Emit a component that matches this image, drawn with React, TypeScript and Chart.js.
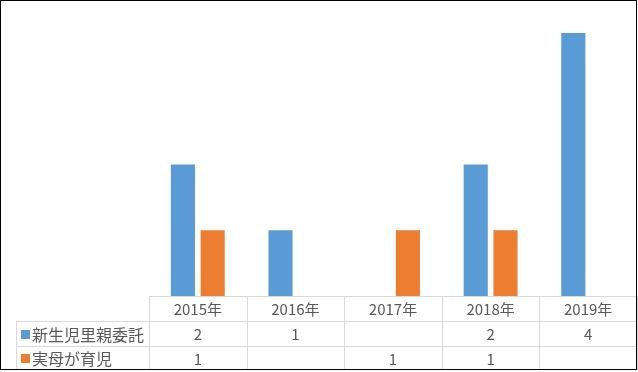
import React, { useEffect, useRef } from "react";
import { Chart, registerables } from "chart.js";

Chart.register(...registerables);

const categories = ["2015年", "2016年", "2017年", "2018年", "2019年"];
const seriesNames = ["新生児里親委託", "実母が育児"];
const fosterValues: (number | null)[] = [2, 1, null, 2, 4];
const motherValues: (number | null)[] = [1, null, 1, 1, null];
const seriesColors = ["#5B9BD5", "#ED7D31"];

const W = 638;
const H = 372;
const FONT = '"Noto Sans CJK JP", "Noto Sans", sans-serif';

const tablePlugin = {
  id: "dataTable",
  afterDraw(chart: any) {
    const ctx = chart.ctx as CanvasRenderingContext2D;
    const x = chart.scales.x;
    const area = chart.chartArea;
    const n = categories.length;
    const colW = (area.right - area.left) / n;
    const top = area.bottom;
    const rowH = [25, 25, 24];
    const y0 = top;
    const y1 = y0 + rowH[0];
    const y2 = y1 + rowH[1];
    const y3 = y2 + rowH[2];
    const labelLeft = 16.5;
    ctx.save();
    ctx.strokeStyle = "#D9D9D9";
    ctx.lineWidth = 1;
    ctx.beginPath();
    ctx.moveTo(area.left, y0 + 0.5);
    ctx.lineTo(area.right, y0 + 0.5);
    ctx.moveTo(labelLeft, y1 + 0.5);
    ctx.lineTo(area.right, y1 + 0.5);
    ctx.moveTo(labelLeft, y2 + 0.5);
    ctx.lineTo(area.right, y2 + 0.5);
    ctx.moveTo(labelLeft, y1);
    ctx.lineTo(labelLeft, y3);
    for (let i = 0; i <= n; i++) {
      const c = x.getPixelForValue(Math.min(i, n - 1));
      const xx = Math.round(i < n ? c - colW / 2 : c + colW / 2) + 0.5;
      ctx.moveTo(xx, y0);
      ctx.lineTo(xx, y3);
    }
    ctx.stroke();

    ctx.fillStyle = "#595959";
    ctx.font = `15px ${FONT}`;
    ctx.textAlign = "center";
    ctx.textBaseline = "middle";
    const rows = [fosterValues, motherValues];
    categories.forEach((cat, i) => {
      const cx = x.getPixelForValue(i);
      ctx.fillStyle = "#595959";
      ctx.fillText(cat, cx, (y0 + y1) / 2 + 1);
      rows.forEach((vals, r) => {
        const v = vals[i];
        if (v !== null && v !== undefined) {
          const ry = r === 0 ? (y1 + y2) / 2 : (y2 + y3) / 2;
          ctx.fillText(String(v), cx, ry + 1);
        }
      });
    });
    ctx.textAlign = "left";
    seriesNames.forEach((name, r) => {
      const ry = r === 0 ? (y1 + y2) / 2 : (y2 + y3) / 2;
      ctx.fillStyle = seriesColors[r];
      ctx.fillRect(21, Math.round(ry) - 4, 9, 9);
      ctx.fillStyle = "#595959";
      ctx.font = `16px ${FONT}`;
      ctx.fillText(name, 32, ry + 1);
    });

    ctx.strokeStyle = "#000000";
    ctx.lineWidth = 1;
    ctx.strokeRect(0.5, 0.5, 636, 369);
    ctx.restore();
  },
};

export default function App() {
  const ref = useRef<HTMLCanvasElement | null>(null);
  useEffect(() => {
    if (!ref.current) return;
    const chart = new Chart(ref.current, {
      type: "bar",
      data: {
        labels: categories,
        datasets: [
          {
            label: seriesNames[0],
            data: fosterValues,
            backgroundColor: seriesColors[0],
            categoryPercentage: 0.61,
            barPercentage: 0.81,
          },
          {
            label: seriesNames[1],
            data: motherValues,
            backgroundColor: seriesColors[1],
            categoryPercentage: 0.61,
            barPercentage: 0.81,
          },
        ],
      },
      options: {
        responsive: false,
        animation: false,
        devicePixelRatio: 1,
        layout: { padding: { left: 149, right: 1, top: 0, bottom: 76 } },
        plugins: { legend: { display: false }, tooltip: { enabled: false } },
        scales: {
          x: { display: false },
          y: { display: false, min: 0, max: 4.5 },
        },
      },
      plugins: [tablePlugin],
    });
    return () => chart.destroy();
  }, []);
  return (
    <div style={{ position: "fixed", left: 0, top: 0, width: W, height: H, background: "#fff" }}>
      <canvas ref={ref} width={W} height={H} style={{ display: "block", width: W, height: H }} />
    </div>
  );
}
